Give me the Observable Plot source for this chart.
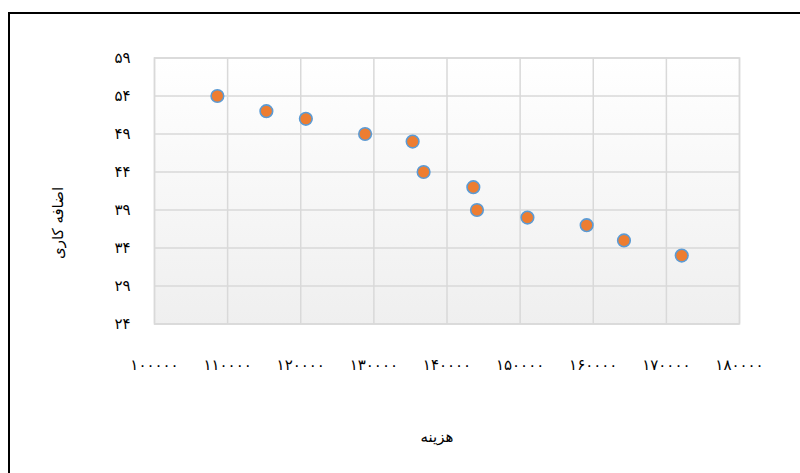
<!DOCTYPE html>
<html>
<head>
<meta charset="utf-8">
<script src="https://cdn.jsdelivr.net/npm/d3@7"></script>
<script src="https://cdn.jsdelivr.net/npm/@observablehq/plot@0.6"></script>
<style>
  html, body { margin: 0; padding: 0; background: #fff; overflow: hidden; }
  #wrap { position: relative; width: 800px; height: 473px; }
  #border { position: absolute; left: 8px; top: 12px; width: 900px; height: 600px;
            border-top: 2px solid #000; border-left: 2px solid #000; pointer-events: none; }
  #chart { position: absolute; left: 0; top: 0; }
</style>
</head>
<body>
<div id="wrap"><div id="chart"></div><div id="border"></div></div>
<script>
// Data
const cost     = [108600, 115300, 120700, 128800, 135300, 136800, 143600, 144100, 151000, 159100, 164200, 172100];
const overtime = [54, 52, 51, 49, 48, 44, 42, 39, 38, 37, 35, 33];
const xTicks = [100000, 110000, 120000, 130000, 140000, 150000, 160000, 170000, 180000];
const yTicks = [24, 29, 34, 39, 44, 49, 54, 59];
const xTitle = "هزینه";
const yTitle = "اضافه کاری";

const data = cost.map((c, i) => ({cost: c, overtime: overtime[i]}));
const fa = d => String(d).replace(/\d/g, c => "۰۱۲۳۴۵۶۷۸۹"[+c]);

const plot = Plot.plot({
  width: 800,
  height: 473,
  marginLeft: 154,
  marginRight: 61,
  marginTop: 57.5,
  marginBottom: 149.5,
  style: { fontFamily: "'DejaVu Sans', sans-serif", fontSize: "15px", color: "#000", background: "transparent" },
  x: { domain: [100000, 180000] },
  y: { domain: [24, 59] },
  marks: [
    Plot.frame({ fill: "url(#bgGrad)", stroke: "none" }),
    Plot.gridX(xTicks, { stroke: "#d9d9d9", strokeOpacity: 1, strokeWidth: 1.5 }),
    Plot.gridY(yTicks, { stroke: "#d9d9d9", strokeOpacity: 1, strokeWidth: 1.5 }),
    Plot.frame({ stroke: "#d9d9d9", strokeWidth: 1.5 }),
    Plot.axisX({ ticks: xTicks, tickFormat: fa, tickSize: 0, tickPadding: 35, label: null, fontSize: 15 }),
    Plot.axisY({ ticks: yTicks, tickFormat: fa, tickSize: 0, tickPadding: 24, label: null, fontSize: 15 }),
    Plot.text([xTitle], { text: d => d, frameAnchor: "bottom", textAnchor: "middle", dx: -10, dy: 118, fontSize: 15 }),
    Plot.text([yTitle], { text: d => d, frameAnchor: "left", textAnchor: "middle", rotate: -90, dx: -96, dy: 32, fontSize: 15 }),
    Plot.dot(data, { x: "cost", y: "overtime", r: 6.3, fill: "#ed7d31", stroke: "#5b9bd5", strokeWidth: 1.6 })
  ]
});

const svg = d3.select(plot);
const defs = svg.insert("defs", ":first-child");
const g = defs.append("linearGradient").attr("id", "bgGrad").attr("x1", 0).attr("y1", 0).attr("x2", 0).attr("y2", 1);
g.append("stop").attr("offset", "0%").attr("stop-color", "#ffffff");
g.append("stop").attr("offset", "100%").attr("stop-color", "#efefef");

document.getElementById("chart").appendChild(plot);
</script>
</body>
</html>
